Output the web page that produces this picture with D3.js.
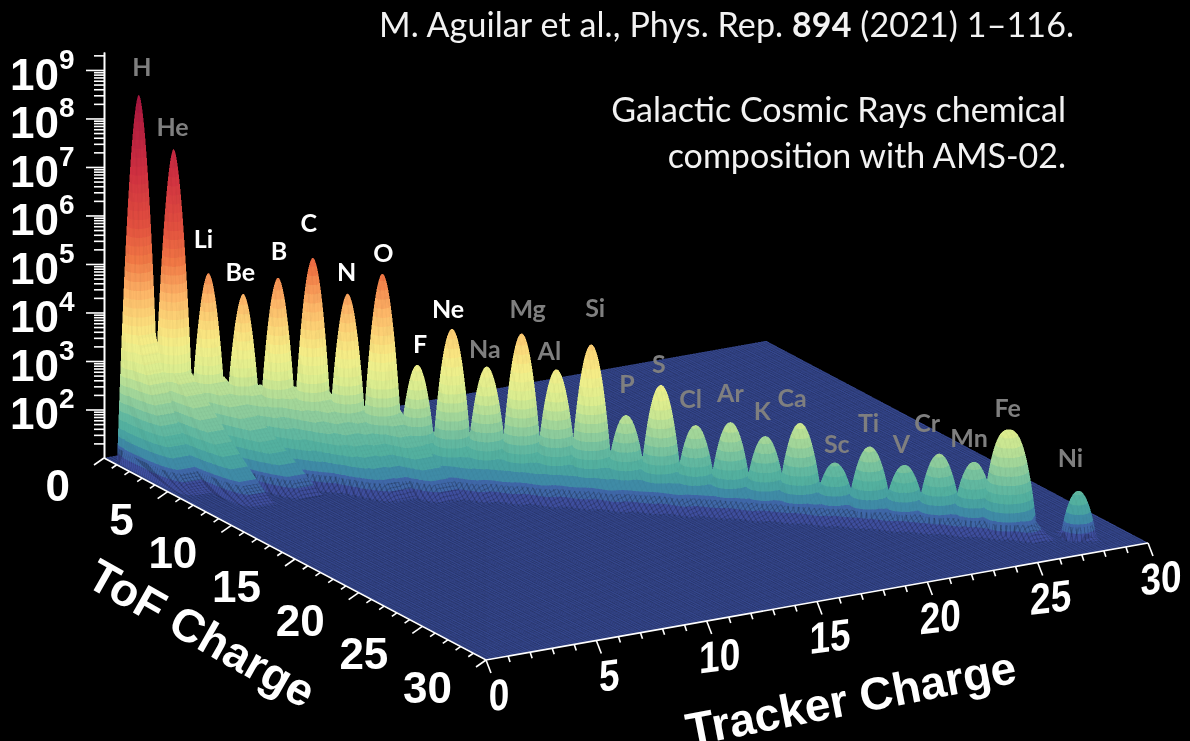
<!DOCTYPE html>
<html>
<head>
<meta charset="utf-8">
<script src="https://cdn.jsdelivr.net/npm/d3@7"></script>
<style>
  html, body { margin: 0; background: #000; }
  #chart { position: relative; width: 1190px; height: 741px; overflow: hidden; }
  #chart canvas { position: absolute; left: 0; top: 0; width: 1190px; height: 741px; filter: blur(0.4px); }
  #chart svg { position: absolute; left: 0; top: 0; }
</style>
</head>
<body>
<div id="chart"></div>
<script>
const elements = ["H","He","Li","Be","B","C","N","O","F","Ne","Na","Mg","Al","Si","P","S","Cl","Ar","K","Ca","Sc","Ti","V","Cr","Mn","Fe","Ni"];
const charges = [1,2,3,4,5,6,7,8,9,10,11,12,13,14,15,16,17,18,19,20,21,22,23,24,25,26,28];
// log10 of the counts at the top of each peak
const peakLog = [8.54,7.48,4.98,4.61,5.0,5.47,4.79,5.26,3.44,4.24,3.52,4.26,3.58,4.15,2.75,3.43,2.66,2.78,2.55,2.88,2.12,2.51,2.19,2.48,2.37,3.09,1.95];
// footprint radius of each peak, in charge units
const peakWidth = [0.85,0.85,0.82,0.82,0.84,0.85,0.85,0.87,0.84,0.86,0.9,0.88,0.9,0.9,0.9,0.9,0.9,0.92,0.92,0.95,0.9,0.95,0.92,0.95,0.95,1.12,0.72];
const peakSharp = [1.75,1.75,1.85,1.85,1.9,1.9,1.9,1.9,2.0,2.0,2.0,2.0,2.0,2.0,2.1,2.1,2.1,2.1,2.1,2.1,2.1,2.1,2.1,2.1,2.1,2.6,2.1];
// log10 counts above the floor on the low-ToF ridge under each peak
const ridgeHeight = [1.2,1.5,1.5,1.4,1.5,1.5,1.5,1.5,1.05,1.15,1.05,1.15,1.05,1.15,0.9,1.0,0.8,0.8,0.7,0.85,0.6,0.7,0.6,0.7,0.7,1.0,0.25];
const ridgeReach = [2,2,2.5,2.5,2.6,2.7,2.7,2.7,2.7,2.6,2.5,2.5,2.4,2.35,2.25,2.25,2.1,2.1,2.0,2.0,1.95,1.95,1.9,1.9,1.85,1.85,0.9];
// fragmentation tails of the lightest nuclei
const tailCharges = [1,2,3,4,5,6,7,8];
const tailHeight = [3.5,2.2,2.0,1.9,1.9,1.9,1.7,1.7];
const tailReach = [5.8,6.8,5.6,4.8,5.8,4.8,3.8,3.8];
const tailPower = [2.2,1.2,0.95,0.9,0.95,1,1,1];
const tailDrift = [0,0.06,0.28,0.5,0.45,0.34,0.3,0.3];
const zMajor = [2,3,4,5,6,7,8,9];
const chargeTicks = [0,5,10,15,20,25,30];
const colorHeights = [0,0.1,0.25,0.45,0.7,1.0,1.5,2.0,2.5,2.85,3.5,4.2,4.9,6,7.6];
const colorStops = ["#34468c","#3f4fa0","#3f63a8","#3f8ba6","#4bab9f","#62b8a0","#9fd59a","#d8ec90","#f2f08a","#fbe27e","#fdb868","#f27a45","#e2503f","#cf3040","#a5143f"];

const width = 1190, height = 741, density = 2;

// floor corners come from the axes, every point is floor + tof part + tracker part
const tofX = d3.scaleLinear([0, 30], [104, 486]);
const tofY = d3.scaleLinear([0, 30], [458, 660]);
const trkX = d3.scaleLinear([0, 30], [0, 662]);
const trkY = d3.scaleLinear([0, 30], [0, -117]);
const countY = d3.scaleLog([10, Math.pow(10, 9.37)], [458, 52]);
const decade = countY(100) - countY(1000);

const px = (t, k) => tofX(t) + trkX(k);
const py = (t, k) => tofY(t) + trkY(k);

const chargeIndex = new Map(charges.map((z, i) => [z, i]));
const ridgeH = d3.scaleLinear(charges, ridgeHeight).clamp(true);
const ridgeR = d3.scaleLinear(charges, ridgeReach).clamp(true);

function surface(t, k) {
    let h = 0;
    const n = Math.round(k);
    if (Math.abs(t - k) < 3) {
        for (let z = n - 1; z <= n + 1; z++) {
            const i = chargeIndex.get(z);
            if (i === undefined) continue;
            const dk = k - z, dt = t - z;
            const r = peakWidth[i];
            const q = (dk * dk + dt * dt) / (r * r);
            if (q < 1) {
                const v = (peakLog[i] - 1) * (1 - Math.pow(q, peakSharp[i] / 2));
                if (v > h) h = v;
            }
        }
        // Fe ends the ridge, Ni only has a small foot of its own
        let fade = Math.min(1, (k - 0.8) / 0.3);
        if (k > 27.4) fade = Math.max(0, 1 - Math.abs(k - 28) / 0.6);
        else if (k > 26.3) fade = Math.max(0, (27.05 - k) / 0.75);
        if (fade > 0) {
            const d = t - k;
            const v = ridgeH(k) * fade, reach = ridgeR(k) * (1 + 0.05 * Math.cos(2 * Math.PI * k));
            let s = 0;
            if (d >= 0 && d < reach) s = v * Math.pow(1 - d / reach, 1.2);
            else if (d < 0 && d > -0.6) s = v * (1 + d / 0.6);
            if (s > h) h = s;
        }
    }
    if (k < 14 && t > 0.8) {
        for (let i = 0; i < tailCharges.length; i++) {
            const z = tailCharges[i];
            const d = t - z;
            if (d < 0 || d >= tailReach[i]) continue;
            const dk = k - z - tailDrift[i] * d;
            const w = 0.38;
            if (dk > w + 0.1 || dk < -w - 0.55) continue;
            let p = 1;
            if (dk > w) p = (w + 0.1 - dk) / 0.1;
            else if (dk < -w) p = (dk + w + 0.55) / 0.55;
            const v = tailHeight[i] * Math.pow(1 - d / tailReach[i], tailPower[i]) * p * Math.min(1, d / 0.4);
            if (v > h) h = v;
        }
    }
    return h;
}

// colour bands, the surface is shaded in flat contour steps
const bandStep = 0.18;
const colorScale = d3.scaleLinear(colorHeights, colorStops).clamp(true);
const bands = d3.range(0, 48).map(i => {
    const c = d3.rgb(colorScale((i + 0.5) * bandStep));
    return [c.r, c.g, c.b];
});
const floorBand = d3.rgb(colorStops[0]);

const canvas = d3.select("#chart").append("canvas")
    .attr("width", width * density)
    .attr("height", height * density);
const ctx = canvas.node().getContext("2d");
const image = ctx.createImageData(width * density, height * density);
const pixels = image.data;
for (let i = 3; i < pixels.length; i += 4) pixels[i] = 255;

// floating horizon, walk every screen column from the viewer to the back
const tofDx = tofX(1) - tofX(0), tofDy = tofY(1) - tofY(0);
const trkDx = trkX(1), trkDy = trkY(1);
const x0 = tofX(0), y0 = tofY(0);

for (let col = Math.ceil(x0 * density); col <= px(30, 30) * density; col++) {
    const x = (col + 0.5) / density - x0;
    const tHigh = Math.min(30, x / tofDx);
    const tLow = Math.max(0, (x - trkDx * 30) / tofDx);
    let horizon = null, prevY = 0, prevH = 0;
    for (let t = tHigh; t >= tLow; t -= 0.01) {
        const k = (x - tofDx * t) / trkDx;
        const h = surface(t, k);
        const y = (y0 + tofDy * t + trkDy * k - decade * h) * density;
        if (horizon === null) {
            horizon = Math.floor(y) + 1;
            prevY = y; prevH = h;
        }
        const top = Math.floor(y);
        if (top < horizon) {
            const meshT = (t / 0.15) % 1 < 0.3;
            const meshK = (k / 0.15) % 1 < 0.28;
            for (let row = horizon - 1; row >= top; row--) {
                const f = prevY > y ? Math.min(1, Math.max(0, (prevY - row) / (prevY - y))) : 1;
                const v = prevH + (h - prevH) * f;
                const low = v < 0.3;
                let m = 1;
                if (meshK) m *= low ? 0.8 : 0.975;
                if (meshT) m *= low ? 0.84 : 0.985;
                if (row >= 0 && row < height * density) {
                    const o = (row * width * density + col) * 4;
                    if (v < 0.03) {
                        pixels[o] = floorBand.r * m;
                        pixels[o + 1] = floorBand.g * m;
                        pixels[o + 2] = floorBand.b * m;
                    } else {
                        const b = bands[Math.min(47, Math.floor(v / bandStep))];
                        pixels[o] = b[0] * m;
                        pixels[o + 1] = b[1] * m;
                        pixels[o + 2] = b[2] * m;
                    }
                }
            }
            horizon = top;
        }
        prevY = y; prevH = h;
    }
}
ctx.putImageData(image, 0, 0);

const svg = d3.select("#chart").append("svg")
    .attr("width", width)
    .attr("height", height);

const axisFont = "'Liberation Sans', Arial, sans-serif";
const noteFont = "Lato, 'Open Sans', sans-serif";

// vertical log axis
const minorTicks = d3.range(1, 10).flatMap(e => [2,3,4,5,6,7,8,9].map(m => m * Math.pow(10, e)))
    .filter(v => v <= countY.domain()[1]);
const zAxis = svg.append("g").attr("transform", "translate(104,0)");
zAxis.append("g")
    .call(d3.axisLeft(countY).tickValues(minorTicks).tickSize(10).tickSizeOuter(0).tickFormat(""));
zAxis.append("g")
    .call(d3.axisLeft(countY).tickValues(zMajor.map(e => Math.pow(10, e))).tickSize(18).tickSizeOuter(0).tickFormat(""));
zAxis.selectAll("path, line").attr("stroke", "#fff").attr("stroke-width", 1.6);

const zLabels = svg.append("g")
    .attr("fill", "#fff")
    .attr("font-family", axisFont)
    .attr("font-weight", "bold")
    .selectAll("text")
    .data(zMajor)
    .join("text")
    .attr("x", 10)
    .attr("y", e => countY(Math.pow(10, e)) + 20)
    .attr("font-size", 44);
zLabels.append("tspan").text("10");
zLabels.append("tspan")
    .attr("dy", -21)
    .attr("font-size", 28)
    .text(e => e);

// floor axes
const unitTicks = d3.range(0, 31);
const floorAxes = svg.append("g").attr("stroke", "#fff").attr("stroke-width", 1.6).attr("fill", "none");
floorAxes.append("path")
    .attr("d", d3.line()([[px(0, 0), py(0, 0)], [px(30, 0), py(30, 0)], [px(30, 30), py(30, 30)]]));
floorAxes.selectAll(".tof-tick")
    .data(unitTicks)
    .join("line")
    .attr("class", "tof-tick")
    .attr("x1", t => px(t, 0))
    .attr("y1", t => py(t, 0))
    .attr("x2", t => px(t, 0) + (t % 5 ? -5 : -10))
    .attr("y2", t => py(t, 0) + (t % 5 ? 3.5 : 7));
floorAxes.selectAll(".trk-tick")
    .data(unitTicks)
    .join("line")
    .attr("class", "trk-tick")
    .attr("x1", k => px(30, k))
    .attr("y1", k => py(30, k))
    .attr("x2", k => px(30, k) + (k % 5 ? 2 : 5))
    .attr("y2", k => py(30, k) + (k % 5 ? 6 : 13));

const axisText = svg.append("g")
    .attr("fill", "#fff")
    .attr("font-family", axisFont)
    .attr("font-weight", "bold")
    .attr("font-size", 44);

axisText.selectAll(".tof-label")
    .data(chargeTicks)
    .join("text")
    .attr("class", "tof-label")
    .attr("text-anchor", "end")
    .attr("x", t => px(t, 0) - 34)
    .attr("y", t => py(t, 0) + 43)
    .text(t => t);

axisText.selectAll(".trk-label")
    .data(chargeTicks)
    .join("text")
    .attr("class", "trk-label")
    .attr("text-anchor", "middle")
    .attr("transform", k => `translate(${px(30, k) + 13},${py(30, k) + 50}) skewY(-7) scale(0.84,1)`)
    .text(k => k);

axisText.append("text")
    .attr("text-anchor", "middle")
    .attr("font-size", 46)
    .attr("transform", "translate(194,647) rotate(29.5)")
    .text("ToF Charge");

axisText.append("text")
    .attr("text-anchor", "middle")
    .attr("font-size", 46)
    .attr("transform", "translate(854,714) rotate(-11)")
    .text("Tracker Charge");

// element names sit a little above their peak
const labelDx = [3,-1,-5,-3,1,-4,-1,1,3,-4,-2,6,-7,4,1,-2,-5,0,-3,-8,2,-1,-3,-12,-5,-1,-8];
const labelDy = [-28,-22,-34,-22,-27,-35,-22,-21,-21,-20,-18,-25,-19,-37,-32,-21,-27,-30,-26,-25,-19,-24,-21,-31,-24,-22,-33];
const whiteLabels = new Set(["Li","Be","B","C","N","O","F","Ne"]);
svg.append("g")
    .attr("font-family", noteFont)
    .attr("font-weight", "bold")
    .attr("font-size", 25)
    .attr("text-anchor", "middle")
    .selectAll("text")
    .data(elements)
    .join("text")
    .attr("x", (d, i) => px(charges[i], charges[i]) + labelDx[i])
    .attr("y", (d, i) => py(charges[i], charges[i]) - decade * (peakLog[i] - 1) + labelDy[i] + 9)
    .attr("fill", d => whiteLabels.has(d) ? "#fff" : "#7f7f7f")
    .text(d => d);

// notes
const notes = svg.append("g")
    .attr("fill", "#f2f2f2")
    .attr("font-family", noteFont)
    .attr("font-size", 34);
const cite = notes.append("text").attr("x", 379).attr("y", 37).attr("textLength", 695);
cite.append("tspan").text("M. Aguilar et al., Phys. Rep. ");
cite.append("tspan").attr("font-weight", "bold").text("894");
cite.append("tspan").text(" (2021) 1–116.");
notes.append("text").attr("x", 1066).attr("y", 122).attr("text-anchor", "end").text("Galactic Cosmic Rays chemical");
notes.append("text").attr("x", 1066).attr("y", 168).attr("text-anchor", "end").text("composition with AMS-02.");
</script>
</body>
</html>
